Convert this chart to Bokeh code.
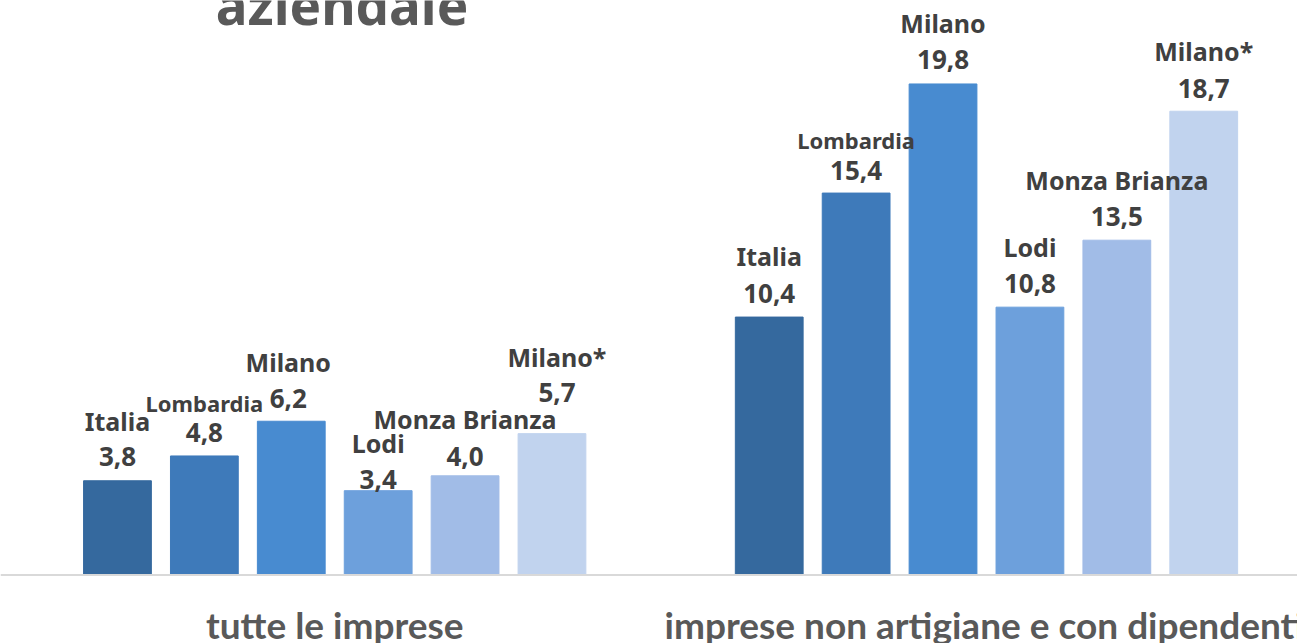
from bokeh.plotting import figure
from bokeh.models import ColumnDataSource, Range1d, Span, Label
from bokeh.core.properties import value
from bokeh.embed import file_html
from bokeh.resources import INLINE

# ---- data ----
groups = ["tutte le imprese", "imprese non artigiane e con dipendenti"]
regions = ["Italia", "Lombardia", "Milano", "Lodi", "Monza Brianza", "Milano*"]
values_tutte = [3.8, 4.8, 6.2, 3.4, 4.0, 5.7]
values_non_artigiane = [10.4, 15.4, 19.8, 10.8, 13.5, 18.7]
title_tail = "aziendale"

# ---- styles ----
bar_colors = ["#35699e", "#3e7aba", "#488bd0", "#6da0dc", "#a1bce7", "#c1d3ee"]
# label offsets above bar top (px): name, value ; x shift
name_dy = [[60, 53, 59, 48, 57, 77], [61, 53, 61, 60, 60, 60]]
value_dy = [[24, 23, 23, 11, 19, 41], [24, 23, 24, 24, 24, 23]]
x_shift = [[0, 0, -3, 0, 0, 5], [0, 0, 0, 0, 0, 0]]
name_sizes = ["25px", "22px", "25px", "25px", "25px", "25px"]
group_gap = 1.5

xs, tops, cols, names, vals, ndy, vdy, xsh, nsz = [], [], [], [], [], [], [], [], []
for g, series in enumerate([values_tutte, values_non_artigiane]):
    for i, v in enumerate(series):
        xs.append(g * (len(regions) + group_gap) + i)
        tops.append(v)
        cols.append(bar_colors[i])
        names.append(regions[i])
        vals.append(f"{v:.1f}".replace(".", ","))
        ndy.append(-name_dy[g][i])
        vdy.append(-value_dy[g][i])
        xsh.append(x_shift[g][i])
        nsz.append(name_sizes[i])

src = ColumnDataSource(dict(x=xs, top=tops, color=cols, name=names, val=vals,
                            ndy=ndy, vdy=vdy, xsh=xsh, nsz=nsz))

gx = [g * (len(regions) + group_gap) + (len(regions) - 1) / 2 for g in range(len(groups))]
gsrc = ColumnDataSource(dict(x=gx, y=[0, 0], text=groups, xo=[0, -2]))

p = figure(width=1297, height=643, output_backend="svg", toolbar_location=None,
           x_range=Range1d(-1.346, 13.579), y_range=Range1d(-2.762, 23.165),
           min_border=0, min_border_left=0, min_border_right=0,
           min_border_top=0, min_border_bottom=0)
p.axis.visible = False
p.grid.visible = False
p.outline_line_color = None
p.background_fill_color = "white"
p.border_fill_color = "white"

p.vbar(x="x", top="top", bottom=0, width=0.78, color="color", source=src)

p.add_layout(Span(location=0, dimension="width", line_color="#d9d9d9", line_width=2))

p.text(x="x", y="top", text="val", source=src, x_offset="xsh", y_offset="vdy",
       text_align="center", text_baseline="middle", text_font=value("Noto Sans"),
       text_font_style="bold", text_font_size="26px", text_color="#404040")
p.text(x="x", y="top", text="name", source=src, x_offset="xsh", y_offset="ndy",
       text_align="center", text_baseline="middle", text_font=value("Noto Sans"),
       text_font_style="bold", text_font_size="nsz", text_color="#404040")

p.text(x="x", y="y", text="text", source=gsrc, x_offset="xo", y_offset=49,
       text_align="center", text_baseline="middle", text_font=value("Lato"),
       text_font_style="bold", text_font_size="37px", text_color="#595959")

p.add_layout(Label(x=2.584, y=23.004, text=title_tail, text_align="center",
                   text_baseline="alphabetic", text_font="Noto Sans",
                   text_font_style="bold", text_font_size="53px", text_color="#595959"))

open("out.html", "w").write(file_html(p, INLINE))
